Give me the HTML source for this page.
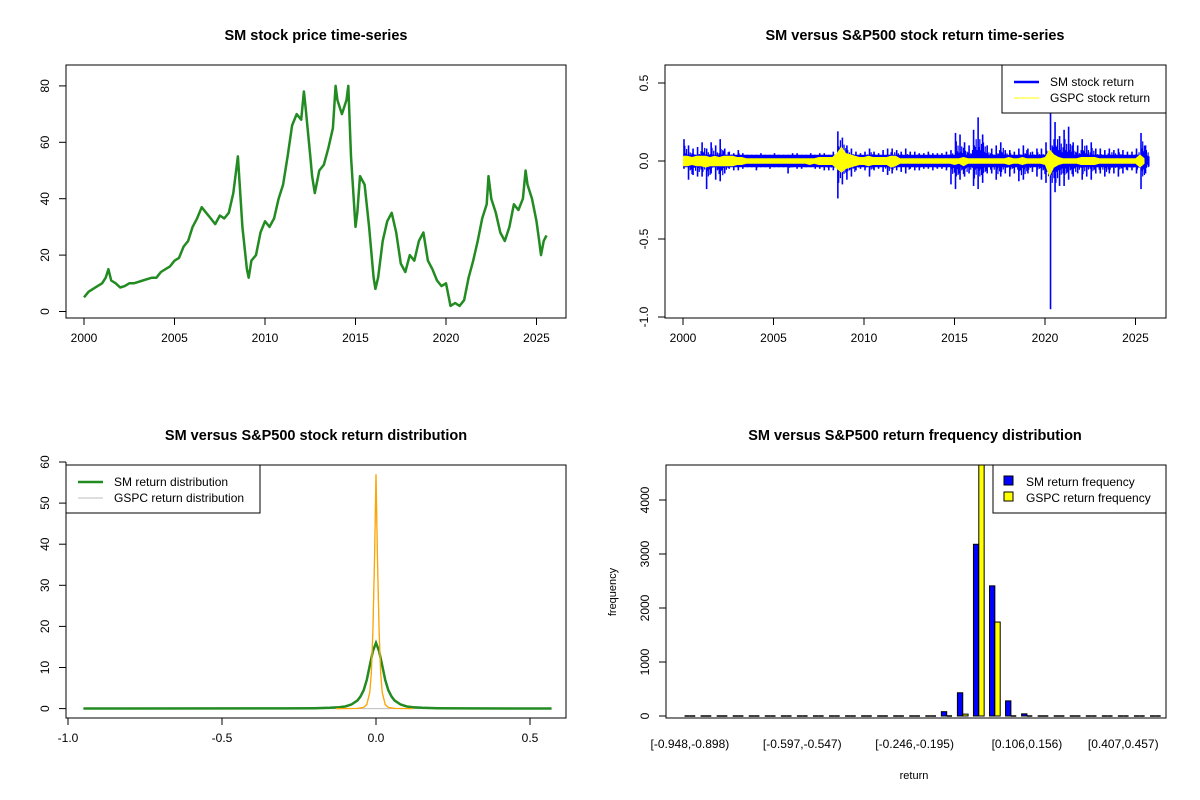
<!DOCTYPE html>
<html><head><meta charset="utf-8"><style>
body{margin:0;background:#fff}
svg{display:block;font-family:"Liberation Sans",Arial,sans-serif}
</style></head><body>
<svg id="c" width="1200" height="800" xmlns="http://www.w3.org/2000/svg"></svg>
<script>
// ---- Panel 1: SM price (quarterly) ----
const priceYears=[2000,2000.25,2000.5,2000.75,2001,2001.2,2001.35,2001.5,2001.75,2002,2002.25,2002.5,2002.75,2003,2003.25,2003.5,2003.75,2004,2004.25,2004.5,2004.75,2005,2005.25,2005.5,2005.75,2006,2006.25,2006.5,2006.75,2007,2007.25,2007.5,2007.75,2008,2008.25,2008.5,2008.6,2008.75,2009,2009.1,2009.25,2009.5,2009.75,2010,2010.25,2010.5,2010.75,2011,2011.25,2011.5,2011.75,2012,2012.15,2012.25,2012.5,2012.6,2012.75,2013,2013.25,2013.5,2013.75,2013.9,2014,2014.25,2014.5,2014.6,2014.75,2015,2015.1,2015.25,2015.5,2015.75,2016,2016.1,2016.25,2016.5,2016.75,2017,2017.25,2017.5,2017.75,2018,2018.25,2018.5,2018.75,2019,2019.25,2019.5,2019.75,2020,2020.25,2020.5,2020.75,2021,2021.25,2021.5,2021.75,2022,2022.25,2022.35,2022.5,2022.75,2023,2023.25,2023.5,2023.75,2024,2024.25,2024.4,2024.5,2024.75,2025,2025.15,2025.25,2025.4,2025.55];
const priceVals=[5,7,8,9,10,12,15,11,10,8.5,9,10,10,10.5,11,11.5,12,12,14,15,16,18,19,23,25,30,33,37,35,33,31,34,33,35,42,55,45,30,15,12,18,20,28,32,30,33,40,45,55,66,70,68,78,72,55,48,42,50,52,58,65,80,75,70,75,80,55,30,35,48,45,30,12,8,12,25,32,35,28,17,14,20,18,25,28,18,15,11,9,10,2,3,2,4,12,18,25,33,38,48,40,35,28,25,30,38,36,40,50,45,40,32,25,20,25,27];
// ---- Panel 2: quarterly return extremes ----
const retYears=[2000,2000.25,2000.5,2000.75,2001,2001.25,2001.5,2001.75,2002,2002.25,2002.5,2002.75,2003,2003.25,2003.5,2003.75,2004,2004.25,2004.5,2004.75,2005,2005.25,2005.5,2005.75,2006,2006.25,2006.5,2006.75,2007,2007.25,2007.5,2007.75,2008,2008.25,2008.5,2008.75,2009,2009.25,2009.5,2009.75,2010,2010.25,2010.5,2010.75,2011,2011.25,2011.5,2011.75,2012,2012.25,2012.5,2012.75,2013,2013.25,2013.5,2013.75,2014,2014.25,2014.5,2014.75,2015,2015.25,2015.5,2015.75,2016,2016.25,2016.5,2016.75,2017,2017.25,2017.5,2017.75,2018,2018.25,2018.5,2018.75,2019,2019.25,2019.5,2019.75,2020,2020.25,2020.5,2020.75,2021,2021.25,2021.5,2021.75,2022,2022.25,2022.5,2022.75,2023,2023.25,2023.5,2023.75,2024,2024.25,2024.5,2024.75,2025,2025.25,2025.5];
const smHigh=[0.14,0.1,0.08,0.09,0.12,0.08,0.12,0.1,0.14,0.08,0.06,0.05,0.07,0.05,0.04,0.04,0.04,0.05,0.04,0.04,0.05,0.04,0.04,0.04,0.05,0.05,0.04,0.04,0.05,0.04,0.05,0.05,0.04,0.06,0.19,0.15,0.1,0.08,0.06,0.05,0.06,0.08,0.06,0.05,0.07,0.08,0.08,0.07,0.06,0.08,0.06,0.06,0.05,0.05,0.06,0.05,0.05,0.05,0.06,0.07,0.18,0.17,0.12,0.1,0.2,0.28,0.17,0.1,0.08,0.1,0.12,0.07,0.07,0.06,0.08,0.1,0.08,0.06,0.08,0.08,0.12,0.32,0.25,0.16,0.2,0.22,0.12,0.1,0.14,0.1,0.12,0.08,0.08,0.07,0.08,0.07,0.08,0.07,0.06,0.06,0.08,0.18,0.1];
const smLow=[-0.05,-0.12,-0.09,-0.1,-0.1,-0.18,-0.08,-0.12,-0.13,-0.08,-0.05,-0.06,-0.06,-0.05,-0.04,-0.04,-0.06,-0.04,-0.04,-0.05,-0.04,-0.04,-0.04,-0.08,-0.04,-0.05,-0.05,-0.04,-0.04,-0.05,-0.05,-0.06,-0.06,-0.06,-0.24,-0.15,-0.12,-0.1,-0.06,-0.05,-0.06,-0.1,-0.06,-0.05,-0.07,-0.09,-0.08,-0.06,-0.07,-0.08,-0.05,-0.06,-0.06,-0.05,-0.05,-0.06,-0.05,-0.05,-0.06,-0.15,-0.18,-0.12,-0.1,-0.08,-0.16,-0.18,-0.14,-0.08,-0.08,-0.12,-0.1,-0.08,-0.1,-0.08,-0.13,-0.12,-0.08,-0.07,-0.1,-0.12,-0.14,-0.95,-0.2,-0.16,-0.16,-0.12,-0.1,-0.08,-0.12,-0.1,-0.12,-0.08,-0.08,-0.1,-0.08,-0.08,-0.1,-0.08,-0.06,-0.06,-0.08,-0.18,-0.08];
const gsHigh=[0.04,0.04,0.03,0.04,0.04,0.04,0.03,0.04,0.03,0.04,0.04,0.04,0.03,0.03,0.02,0.02,0.02,0.02,0.02,0.02,0.02,0.02,0.02,0.02,0.02,0.02,0.02,0.02,0.02,0.02,0.03,0.03,0.03,0.03,0.06,0.11,0.06,0.05,0.04,0.03,0.03,0.04,0.03,0.03,0.03,0.03,0.04,0.04,0.02,0.02,0.02,0.02,0.02,0.02,0.02,0.02,0.02,0.02,0.02,0.02,0.02,0.02,0.03,0.02,0.02,0.02,0.02,0.02,0.02,0.02,0.02,0.02,0.03,0.02,0.02,0.03,0.02,0.02,0.02,0.02,0.03,0.09,0.05,0.03,0.02,0.02,0.02,0.02,0.03,0.03,0.03,0.03,0.02,0.02,0.02,0.02,0.02,0.02,0.02,0.02,0.02,0.05,0.02];
const gsLow=[-0.04,-0.04,-0.03,-0.04,-0.04,-0.05,-0.04,-0.04,-0.04,-0.04,-0.04,-0.04,-0.03,-0.03,-0.02,-0.02,-0.02,-0.02,-0.02,-0.02,-0.02,-0.02,-0.02,-0.02,-0.02,-0.02,-0.02,-0.02,-0.03,-0.02,-0.03,-0.03,-0.03,-0.03,-0.06,-0.09,-0.06,-0.05,-0.04,-0.03,-0.03,-0.04,-0.03,-0.03,-0.03,-0.03,-0.05,-0.04,-0.02,-0.02,-0.02,-0.02,-0.02,-0.02,-0.02,-0.02,-0.02,-0.02,-0.02,-0.02,-0.03,-0.02,-0.04,-0.02,-0.02,-0.02,-0.02,-0.02,-0.02,-0.02,-0.02,-0.02,-0.03,-0.02,-0.02,-0.03,-0.02,-0.02,-0.02,-0.02,-0.03,-0.12,-0.05,-0.03,-0.02,-0.02,-0.02,-0.02,-0.03,-0.03,-0.03,-0.03,-0.02,-0.02,-0.02,-0.02,-0.02,-0.02,-0.02,-0.02,-0.02,-0.05,-0.02];
// ---- Panel 3: densities ----
const smDensX=[-0.95,-0.3,-0.2,-0.15,-0.12,-0.1,-0.08,-0.06,-0.05,-0.04,-0.03,-0.02,-0.01,0,0.01,0.02,0.03,0.04,0.05,0.06,0.08,0.1,0.12,0.15,0.2,0.3,0.57];
const smDensY=[0.02,0.05,0.1,0.2,0.35,0.5,1,2,3,4.5,7,10.5,14,16,14,10.5,7,4.5,3,2,1,0.5,0.35,0.2,0.1,0.05,0.02];
const gsDensX=[-0.13,-0.08,-0.06,-0.04,-0.03,-0.02,-0.015,-0.01,-0.005,0,0.005,0.01,0.015,0.02,0.03,0.04,0.06,0.08,0.12];
const gsDensY=[0,0.02,0.05,0.3,1,4,9,19,36,57,36,19,9,4,1,0.3,0.05,0.02,0];
// ---- Panel 4: histogram ----
const binLabels=["[-0.948,-0.898)","[-0.597,-0.547)","[-0.246,-0.195)","[0.106,0.156)","[0.407,0.457)"];
const binLabelIdx=[0,7,14,21,27];
const smFreq=[0,0,0,0,0,0,0,0,0,0,0,0,0,0,15,15,80,430,3180,2410,280,40,15,15,15,0,0,0,0,0];
const gsFreq=[0,0,0,0,0,0,0,0,0,0,0,0,0,0,0,1,5,35,4700,1740,15,5,0,0,0,0,0,0,0,0];

const svg=document.getElementById('c');const NS="http://www.w3.org/2000/svg";
function el(tag,attrs,parent){const e=document.createElementNS(NS,tag);for(const k in attrs)e.setAttribute(k,attrs[k]);(parent||svg).appendChild(e);return e;}
function txt(x,y,s,size,opts){const t=el('text',Object.assign({x:x,y:y,'font-size':size,'text-anchor':'middle',fill:'#000'},opts||{}));t.textContent=s;return t;}
function group(name){const g=el('g',{});return g;}
function frame(g,l,t,r,b){el('rect',{x:l,y:t,width:r-l,height:b-t,fill:'none',stroke:'#000','stroke-width':1},g);}
function xTick(g,x,y,label){el('line',{x1:x,y1:y,x2:x,y2:y+7,stroke:'#000'},g);g.appendChild(txt(x,y+24,label,12,{}));}
function yTick(g,x,y,label){el('line',{x1:x,y1:y,x2:x-7,y2:y,stroke:'#000'},g);const t=txt(x-17,y,label,12,{transform:`rotate(-90 ${x-17} ${y})`});g.appendChild(t);}

// Panel 1
(function(){const g=group('price-panel');const L=66,T=65,R=566,B=318;
const X=yr=>L+18+(yr-2000)*18.1;const Y=v=>311.5-v*2.82;
let d='';priceYears.forEach((yr,i)=>{d+=(i?'L':'M')+X(yr).toFixed(1)+','+Y(priceVals[i]).toFixed(1);});
const p=el('path',{d:d,fill:'none',stroke:'#228B22','stroke-width':2.5,'stroke-linejoin':'round'},g);

frame(g,L,T,R,B);
el('line',{x1:X(2000),y1:B,x2:X(2025),y2:B,stroke:'#000'},g);
[2000,2005,2010,2015,2020,2025].forEach(v=>xTick(g,X(v),B,String(v)));
el('line',{x1:L,y1:Y(0),x2:L,y2:Y(80),stroke:'#000'},g);
[0,20,40,60,80].forEach(v=>yTick(g,L,Y(v),String(v)));
const t=txt(316,40,'SM stock price time-series',14.5,{'font-weight':'bold'});
})();

// Panel 2
(function(){const g=group('return-panel');const L=665,T=65,R=1166,B=318;
const X=yr=>L+18+(yr-2000)*18.1;const Y=v=>161-v*156;
const fr=[0.45,0.7,0.35,0.55,0.3,0.5];
el('rect',{x:X(2000),y:Y(0.04),width:X(2025.55)-X(2000),height:Y(-0.04)-Y(0.04),fill:'#0000ff'},g);
retYears.forEach((yr,i)=>{
 const l=el('line',{x1:X(yr)+1,x2:X(yr)+1,y1:Y(smHigh[i]),y2:Y(smLow[i]),stroke:'#0000ff','stroke-width':1.6},g);
 
 for(let k=1;k<5;k++){const xx=X(yr)+1+k*0.85;
  el('line',{x1:xx,x2:xx,y1:Y(Math.min(smHigh[i],0.2)*fr[(k+i)%fr.length]),y2:Y(Math.max(smLow[i],-0.2)*fr[(k+i+2)%fr.length]),stroke:'#0000ff','stroke-width':1.2},g);}
});
let up='',dn='';retYears.forEach((yr,i)=>{up+=(i?'L':'M')+X(yr).toFixed(1)+','+Y(gsHigh[i]*0.85).toFixed(1);});
for(let i=retYears.length-1;i>=0;i--){dn+='L'+X(retYears[i]).toFixed(1)+','+Y(gsLow[i]*0.85).toFixed(1);}
const yp=el('path',{d:up+dn+'Z',fill:'#ffff00',stroke:'none'},g);

frame(g,L,T,R,B);
[2000,2005,2010,2015,2020,2025].forEach(v=>xTick(g,X(v),B,String(v)));
el('line',{x1:X(2000),y1:B,x2:X(2025),y2:B,stroke:'#000'},g);
el('line',{x1:L,y1:Y(0.5),x2:L,y2:Y(-1),stroke:'#000'},g);
[[0.5,'0.5'],[0,'0.0'],[-0.5,'-0.5'],[-1,'-1.0']].forEach(a=>yTick(g,L,Y(a[0]),a[1]));
const lg=group('return-legend');el('rect',{x:1002,y:65,width:164,height:48,fill:'#fff',stroke:'#000'},lg);
el('line',{x1:1014,y1:82,x2:1039,y2:82,stroke:'#0000ff','stroke-width':2.5},lg);
el('line',{x1:1014,y1:98,x2:1039,y2:98,stroke:'#ffff00','stroke-width':1},lg);
lg.appendChild(txt(1050,86,'SM stock return',12,{'text-anchor':'start'}));
lg.appendChild(txt(1050,102,'GSPC stock return',12,{'text-anchor':'start'}));
const t=txt(915,40,'SM versus S&P500 stock return time-series',14.5,{'font-weight':'bold'});
})();

// Panel 3
(function(){const g=group('density-panel');const L=66,T=465,R=566,B=718;
const X=v=>376+v*308;const Y=v=>708.6-v*4.11;
el('line',{x1:X(-0.95),y1:Y(0),x2:X(0.57),y2:Y(0),stroke:'#bebebe'},g);
let d='';gsDensX.forEach((x,i)=>{d+=(i?'L':'M')+X(x).toFixed(1)+','+Y(gsDensY[i]).toFixed(1);});
el('path',{d:d,fill:'none',stroke:'#bebebe','stroke-width':1},g);
let d2='';smDensX.forEach((x,i)=>{d2+=(i?'L':'M')+X(x).toFixed(1)+','+Y(smDensY[i]).toFixed(1);});
const p=el('path',{d:d2,fill:'none',stroke:'#228B22','stroke-width':2.5},g);
const p2=el('path',{d:d,fill:'none',stroke:'#FFA500','stroke-width':1.3},g);
frame(g,L,T,R,B);
el('line',{x1:X(-1),y1:B,x2:X(0.5),y2:B,stroke:'#000'},g);
[[-1,'-1.0'],[-0.5,'-0.5'],[0,'0.0'],[0.5,'0.5']].forEach(a=>xTick(g,X(a[0]),B,a[1]));
el('line',{x1:L,y1:Y(0),x2:L,y2:Y(60),stroke:'#000'},g);
[0,10,20,30,40,50,60].forEach(v=>yTick(g,L,Y(v),String(v)));
const lg=group('density-legend');el('rect',{x:66,y:465,width:194,height:48,fill:'#fff',stroke:'#000'},lg);
el('line',{x1:78,y1:482,x2:103,y2:482,stroke:'#228B22','stroke-width':2.5},lg);
el('line',{x1:78,y1:498,x2:103,y2:498,stroke:'#bebebe','stroke-width':1},lg);
lg.appendChild(txt(114,486,'SM return distribution',12,{'text-anchor':'start'}));
lg.appendChild(txt(114,502,'GSPC return distribution',12,{'text-anchor':'start'}));
const t=txt(316,440,'SM versus S&P500 stock return distribution',14.5,{'font-weight':'bold'});
})();

// Panel 4
(function(){const g=group('histogram-panel');const L=666,T=465,R=1166,B=718;
const U=u=>679.2+u*5.35;const Y=v=>Math.max(T,716-v*0.054);
const clip=el('clipPath',{id:'hc'},g);el('rect',{x:L,y:T,width:R-L,height:B-T},clip);
const bg=el('g',{'clip-path':'url(#hc)'},g);
function bar(v,u,fill,name){
 if(716-Y(v)<1.5){const l=el('line',{x1:U(u),x2:U(u)+5.35,y1:716,y2:716,stroke:'#000','stroke-width':1.5},bg);
  return;}
 const r=el('rect',{x:U(u),y:Y(v),width:5.35,height:716-Y(v),fill:fill,stroke:'#000','stroke-width':1},bg);
 }
smFreq.forEach((v,i)=>bar(v,3*i+1,'#0000ff','sm-freq-bar'));
gsFreq.forEach((v,i)=>bar(v,3*i+2,'#ffff00','gspc-freq-bar'));
frame(g,L,T,R,B);
binLabels.forEach((s,k)=>{g.appendChild(txt(U(3*binLabelIdx[k]+2),748,s,12));});
el('line',{x1:L,y1:716,x2:L,y2:500,stroke:'#000'},g);
[0,1000,2000,3000,4000].forEach(v=>yTick(g,L,Y(v),String(v)));
const yl=txt(616,592,'frequency',11,{transform:'rotate(-90 616 592)'});
const xl=txt(914,779,'return',11);
const lg=group('histogram-legend');el('rect',{x:993,y:465,width:173,height:48,fill:'#fff',stroke:'#000'},lg);
el('rect',{x:1004,y:476,width:9,height:9,fill:'#0000ff',stroke:'#000'},lg);
el('rect',{x:1004,y:492,width:9,height:9,fill:'#ffff00',stroke:'#000'},lg);
lg.appendChild(txt(1026,486,'SM return frequency',12,{'text-anchor':'start'}));
lg.appendChild(txt(1026,502,'GSPC return frequency',12,{'text-anchor':'start'}));
const t=txt(915,440,'SM versus S&P500 return frequency distribution',14.5,{'font-weight':'bold'});
})();
</script>
</body></html>
